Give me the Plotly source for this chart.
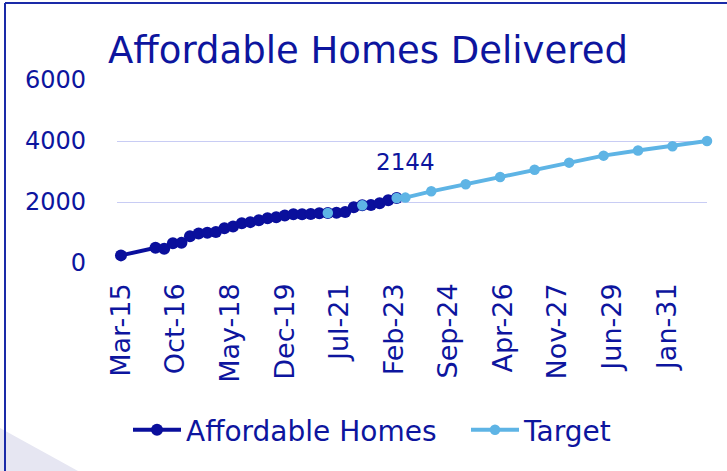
import plotly.graph_objects as go

# ---- data ----
dark_dates = ["2015-03-01",
              "2016-03-01", "2016-06-01", "2016-09-01", "2016-12-01",
              "2017-03-01", "2017-06-01", "2017-09-01", "2017-12-01",
              "2018-03-01", "2018-06-01", "2018-09-01", "2018-12-01",
              "2019-03-01", "2019-06-01", "2019-09-01", "2019-12-01",
              "2020-03-01", "2020-06-01", "2020-09-01", "2020-12-01",
              "2021-03-01", "2021-06-01", "2021-09-01", "2021-12-01",
              "2022-03-01", "2022-06-01", "2022-09-01", "2022-12-01",
              "2023-03-01"]
dark_values = [250,
               500, 470, 650, 660,
               880, 970, 990, 1020,
               1140, 1200, 1300, 1340,
               1400, 1470, 1500, 1560,
               1600, 1600, 1610, 1630,
               1640, 1650, 1670, 1830,
               1890, 1900, 1960, 2060,
               2130]

target_dates = ["2021-03-01", "2021-09-01", "2022-03-01", "2022-09-01",
                "2023-03-01", "2023-06-01", "2024-03-01", "2025-03-01",
                "2026-03-01", "2027-03-01", "2028-03-01", "2029-03-01",
                "2030-03-01", "2031-03-01", "2032-03-01"]
target_values = [1640, None, 1890, None,
                 2130, 2144, 2350, 2580,
                 2820, 3060, 3290, 3520,
                 3690, 3830, 4000]

tick_dates = ["2015-03-01", "2016-10-01", "2018-05-01", "2019-12-01",
              "2021-07-01", "2023-02-01", "2024-09-01", "2026-04-01",
              "2027-11-01", "2029-06-01", "2031-01-01"]
tick_labels = ["Mar-15", "Oct-16", "May-18", "Dec-19", "Jul-21", "Feb-23",
               "Sep-24", "Apr-26", "Nov-27", "Jun-29", "Jan-31"]

label_date = "2023-06-01"
label_value = 2144

# ---- style ----
DARK = "#0a0f9c"
LIGHT = "#5eb4e5"
TEXT = "#0d159e"
GRID = "#c8ccf4"
FONT = "DejaVu Sans"

W, H = 727, 471
L, R, T, B = 117, 20, 80, 208
pw, ph = W - L - R, H - T - B

def px_x(X):
    return (X - L) / pw

def px_y(Y):
    return (H - B - Y) / ph

fig = go.Figure()
fig.add_trace(go.Scatter(
    x=dark_dates, y=dark_values, name="Affordable Homes",
    mode="lines+markers", line=dict(color=DARK, width=4),
    marker=dict(color=DARK, size=12), cliponaxis=False, legend="legend"))
fig.add_trace(go.Scatter(
    x=target_dates, y=target_values, name="Target",
    mode="lines+markers", connectgaps=False,
    line=dict(color=LIGHT, width=4),
    marker=dict(color=LIGHT, size=10.5), cliponaxis=False, legend="legend2"))

fig.add_annotation(x=label_date, y=label_value, text=str(label_value),
                   showarrow=False, yshift=36,
                   font=dict(family=FONT, size=23, color=TEXT))

# border lines (left and top) and decorative triangle
fig.add_shape(type="path", xref="paper", yref="paper",
              path=f"M {px_x(0)} {px_y(428)} L {px_x(0)} {px_y(471)} L {px_x(78)} {px_y(471)} Z",
              fillcolor="#e6e6f2", line=dict(width=0), layer="below")
fig.add_shape(type="line", xref="paper", yref="paper",
              x0=px_x(5), x1=px_x(5), y0=px_y(3), y1=px_y(475),
              line=dict(color="#1a2aa8", width=2))
fig.add_shape(type="line", xref="paper", yref="paper",
              x0=px_x(5), x1=px_x(730), y0=px_y(3), y1=px_y(3),
              line=dict(color="#1a2aa8", width=2))

legend_common = dict(orientation="h", yanchor="middle", y=px_y(430),
                     xanchor="left", itemwidth=48,
                     font=dict(family=FONT, size=28, color=TEXT))

fig.update_layout(
    width=W, height=H,
    margin=dict(l=L, r=R, t=T, b=B),
    paper_bgcolor="white", plot_bgcolor="white",
    font=dict(family=FONT, color=TEXT, size=24),
    title=dict(text="Affordable Homes Delivered", x=108 / W, xanchor="left",
               xref="container", y=1 - 50 / H, yref="container", yanchor="middle",
               font=dict(family=FONT, size=37, color=TEXT)),
    showlegend=True,
    legend=dict(x=px_x(128), **legend_common),
    legend2=dict(x=px_x(466), **legend_common),
    xaxis=dict(type="date", range=["2015-01-18", "2032-03-01"],
               tickvals=tick_dates, ticktext=tick_labels, tickangle=-90,
               showgrid=False, zeroline=False, showline=False,
               ticks="", ticklabelstandoff=14,
               tickfont=dict(family=FONT, size=27, color=TEXT)),
    yaxis=dict(range=[0, 6000], tickvals=[0, 2000, 4000, 6000],
               showgrid=True, gridcolor=GRID, gridwidth=1,
               zeroline=False, showline=False, ticks="",
               ticklabelstandoff=30,
               tickfont=dict(family=FONT, size=24, color=TEXT)),
)

fig.write_html("out.html", config={"displayModeBar": False},
               post_script="document.body.style.margin='0';")
